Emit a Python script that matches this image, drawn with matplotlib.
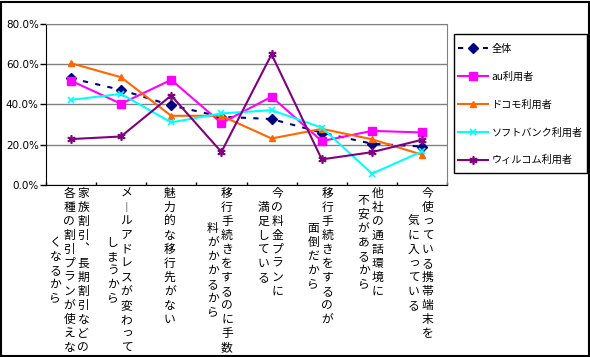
import matplotlib.pyplot as plt
import numpy as np
from matplotlib.patches import Rectangle
from matplotlib.ticker import FuncFormatter

plt.rcParams["font.family"] = ["Noto Sans CJK JP", "DejaVu Sans"]

# vertical category labels, each entry = columns from right to left
categories = [
    ["家族割引︑長期割引などの", "各種の割引プランが使えな", "くなるから"],
    ["メ︱ルアドレスが変わって", "しまうから"],
    ["魅力的な移行先がない"],
    ["移行手続きをするのに手数", "料がかかるから"],
    ["今の料金プランに", "満足している"],
    ["移行手続きをするのが", "面倒だから"],
    ["他社の通話環境に", "不安があるから"],
    ["今使っている携帯端末を", "気に入っている"],
]

series_names = ["全体", "au利用者", "ドコモ利用者", "ソフトバンク利用者", "ウィルコム利用者"]
zentai = [53.0, 47.2, 39.5, 33.8, 32.7, 25.9, 20.4, 19.0]
au = [51.8, 40.3, 52.2, 30.7, 43.8, 21.7, 26.8, 26.0]
docomo = [60.5, 53.5, 34.3, 34.3, 23.0, 27.8, 22.6, 14.9]
softbank = [42.2, 45.2, 31.0, 35.5, 37.1, 28.4, 5.5, 16.6]
willcom = [22.7, 24.0, 44.4, 16.3, 64.9, 12.6, 16.2, 22.4]

yticks = [0, 20, 40, 60, 80]

fig = plt.figure(figsize=(5.90, 3.57), dpi=100)
ax = fig.add_axes([45.7 / 590, 1 - 184.7 / 357, 401.6 / 590, 160.7 / 357])

x = np.arange(len(categories))
styles = [
    dict(color="#000080", marker="D", ms=5, ls=(0, (2.5, 3.5))),
    dict(color="#FF00FF", marker="s", ms=6, ls="-"),
    dict(color="#FF6600", marker="^", ms=4.5, ls="-"),
    dict(color="#00FFFF", marker="x", ms=5, mew=1.2, ls="-"),
    dict(color="#800080", marker=(6, 2, 0), ms=6, mew=1.2, ls="-"),
]
for name, vals, st in zip(series_names, [zentai, au, docomo, softbank, willcom], styles):
    ax.plot(x, vals, lw=1.5, label=name, **st)

ax.set_xlim(-0.5, len(categories) - 0.5)
ax.set_ylim(0, 80)
ax.set_yticks(yticks)
ax.yaxis.set_major_formatter(FuncFormatter(lambda v, p: f"{v:.1f}%"))
ax.set_xticks(np.arange(-0.5, len(categories), 1))
ax.set_xticklabels([])
ax.tick_params(axis="x", direction="in", length=2.5, width=1, color="black")
ax.tick_params(axis="y", direction="out", length=4, width=1, pad=1, labelsize=7.5)
for lab in ax.get_yticklabels():
    lab.set_family("DejaVu Sans")
ax.grid(axis="y", color="#808080", lw=1)
ax.set_axisbelow(True)
for s in ["top", "right"]:
    ax.spines[s].set_color("#808080")
for s in ["left", "bottom"]:
    ax.spines[s].set_color("black")

# vertical text labels under each category
row = 14
col = 14
for i, cols in enumerate(categories):
    n = len(cols)
    longest = max(len(c) for c in cols)
    for j, text in enumerate(cols):
        dx = ((n - 1) / 2 - j) * col - 1.5
        start = (longest - len(text)) / 2
        for k, ch in enumerate(text):
            dy = -8.6 - (start + k) * row
            ax.annotate(ch, xy=(i, 0), xycoords=ax.get_xaxis_transform(),
                        xytext=(dx, dy), textcoords="offset pixels",
                        ha="center", va="center", fontsize=8.5, annotation_clip=False)

# legend without its own frame, box drawn separately
leg = fig.legend(loc="center left", bbox_to_anchor=(458 / 590, 1 - 104.5 / 357),
                 borderaxespad=0, borderpad=0, fontsize=7.3, frameon=False,
                 labelspacing=1.75, handlelength=3.0, handletextpad=0.3, numpoints=1)
fig.patches.append(Rectangle((454 / 590, 1 - 173 / 357), 133 / 590, 139 / 357,
                             transform=fig.transFigure, fill=False,
                             edgecolor="black", lw=1))

fig.patches.append(Rectangle((0.5 / 590, 1.5 / 357), 588 / 590, 354 / 357,
                             transform=fig.transFigure, fill=False,
                             edgecolor="black", lw=1.5))

fig.savefig("out.png", dpi=100)
